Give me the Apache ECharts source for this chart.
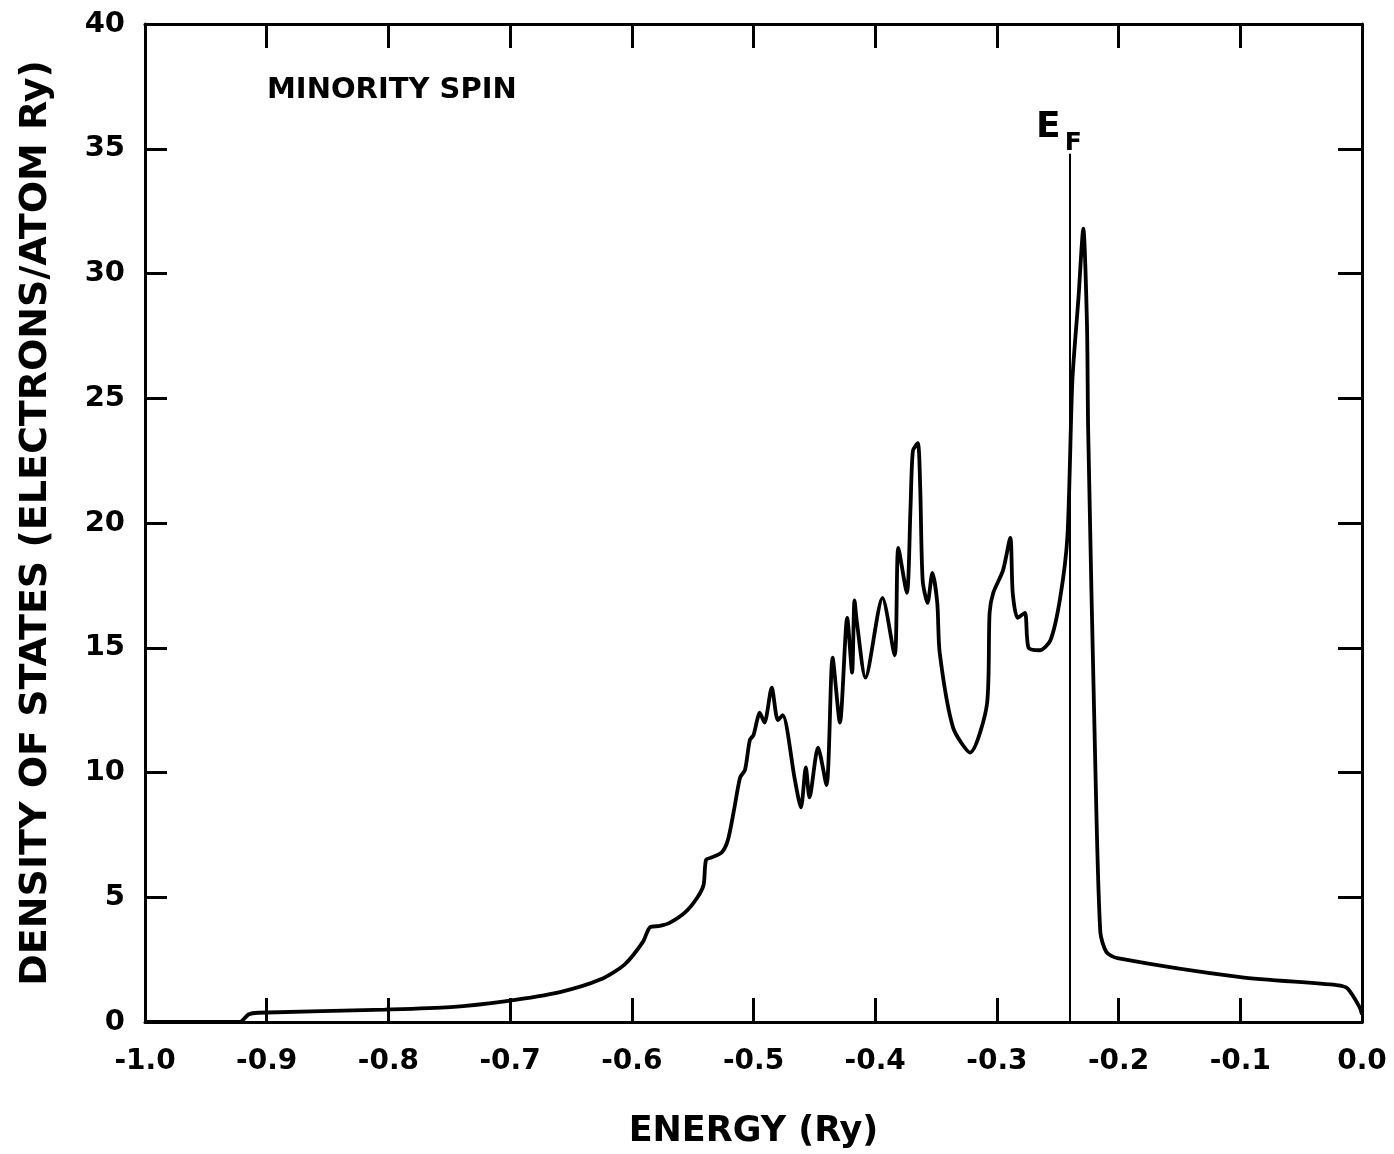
<!DOCTYPE html>
<html>
<head>
<meta charset="utf-8">
<script src="https://cdn.jsdelivr.net/npm/echarts@6/dist/echarts.min.js"></script>
<style>html,body{margin:0;padding:0;background:#fff}#c{width:1394px;height:1154px}</style>
</head>
<body>
<div id="c"></div>
<script>
// Energy (Ry)
const energy = [-1.0,-0.922,-0.915,-0.907,-0.803,-0.749,-0.703,-0.659,-0.626,-0.606,-0.591,-0.585,-0.577,-0.569,-0.556,-0.546,-0.541,-0.539,-0.534,-0.526,-0.521,-0.516,-0.511,-0.507,-0.503,-0.500,-0.497,-0.495,-0.491,-0.485,-0.480,-0.476,-0.466,-0.461,-0.457,-0.454,-0.447,-0.440,-0.435,-0.429,-0.423,-0.419,-0.417,-0.415,-0.408,-0.394,-0.384,-0.381,-0.374,-0.371,-0.369,-0.365,-0.363,-0.361,-0.357,-0.353,-0.349,-0.347,-0.336,-0.322,-0.308,-0.306,-0.303,-0.295,-0.289,-0.287,-0.283,-0.277,-0.274,-0.265,-0.256,-0.248,-0.242,-0.238,-0.233,-0.229,-0.226,-0.225,-0.219,-0.215,-0.210,-0.201,-0.100,-0.021,-0.012,-0.002,0.0];
// Density of states (electrons / atom Ry)
const dos = [0,0,0.3,0.37,0.5,0.6,0.84,1.2,1.7,2.3,3.2,3.8,3.85,3.97,4.4,5.0,5.5,6.5,6.6,6.8,7.3,8.5,9.8,10.1,11.3,11.5,12.1,12.4,12.0,13.4,12.1,12.3,9.7,8.6,10.2,9.0,11.0,9.5,14.6,12.0,16.2,14.0,16.9,16.0,13.8,17.0,14.7,19.0,17.2,20.6,22.9,23.2,21.4,17.7,16.8,18.0,16.8,14.8,11.8,10.8,12.8,16.4,17.2,18.1,19.4,17.2,16.2,16.4,15.0,14.9,15.3,17.0,19.5,25.7,29.0,31.8,28.0,23.7,10.0,3.6,2.8,2.56,1.8,1.48,1.35,0.6,0.3];
const xTicks = ['-1.0','-0.9','-0.8','-0.7','-0.6','-0.5','-0.4','-0.3','-0.2','-0.1','0.0'];
const yTicks = [0,5,10,15,20,25,30,35,40];
const fermiEnergy = -0.240;
const fermiTop = 34.8;

const FONT = 'DejaVu Sans';
const pts = energy.map((e,i)=>[e,dos[i]]);
const chart = echarts.init(document.getElementById('c'));
const lineStyle = {color:'#000',width:3};
const fmtX = v => { const i = Math.round((v+1)*10); return xTicks[i] !== undefined ? xTicks[i] : ''; };
chart.setOption({
  animation:false,
  backgroundColor:'#fff',
  grid:{left:145,right:32,top:24,bottom:132},
  title:{text:'MINORITY SPIN',left:262,top:71,textStyle:{fontFamily:FONT,fontSize:29,fontWeight:'bold',color:'#000'}},
  xAxis:[
    {type:'value',min:-1,max:0,interval:0.1,position:'bottom',
     name:'ENERGY (Ry)',nameLocation:'middle',nameGap:92,
     nameTextStyle:{fontFamily:FONT,fontSize:35,fontWeight:'bold',color:'#000'},
     axisLine:{show:true,onZero:false,lineStyle},
     axisTick:{show:true,inside:true,length:24,lineStyle},
     axisLabel:{formatter:fmtX,fontFamily:FONT,fontSize:28,fontWeight:'bold',color:'#000',margin:26},
     splitLine:{show:false}},
    {type:'value',min:-1,max:0,interval:0.1,position:'top',
     axisLine:{show:true,onZero:false,lineStyle},
     axisTick:{show:true,inside:true,length:24,lineStyle},
     axisLabel:{show:false},splitLine:{show:false}}
  ],
  yAxis:[
    {type:'value',min:0,max:40,interval:5,position:'left',
     name:'DENSITY OF STATES (ELECTRONS/ATOM Ry)',nameLocation:'middle',nameGap:90,
     nameTextStyle:{fontFamily:FONT,fontSize:38,fontWeight:'bold',color:'#000'},
     axisLine:{show:true,onZero:false,lineStyle},
     axisTick:{show:true,inside:true,length:22,lineStyle},
     axisLabel:{formatter:v=>yTicks.includes(v)?String(v):'',fontFamily:FONT,fontSize:29,fontWeight:'bold',color:'#000',margin:20},
     splitLine:{show:false}},
    {type:'value',min:0,max:40,interval:5,position:'right',
     axisLine:{show:true,onZero:false,lineStyle},
     axisTick:{show:true,inside:true,length:24,lineStyle},
     axisLabel:{show:false},splitLine:{show:false}}
  ],
  series:[{
    type:'line',data:pts,xAxisIndex:0,yAxisIndex:0,
    showSymbol:false,smooth:0.25,
    lineStyle:{color:'#000',width:3.8},
    markLine:{
      silent:true,symbol:'none',
      lineStyle:{color:'#000',width:2,type:'solid'},
      label:{show:true,position:'end',distance:8,
        formatter:'{e|E}{f|F}',
        rich:{e:{fontFamily:FONT,fontSize:36,fontWeight:'bold',color:'#000',verticalAlign:'bottom',padding:[0,0,0,0]},
              f:{fontFamily:FONT,fontSize:25,fontWeight:'bold',color:'#000',verticalAlign:'bottom',padding:[0,22,-10,4]}}},
      data:[[{coord:[fermiEnergy,0]},{coord:[fermiEnergy,fermiTop]}]]
    }
  }]
});
</script>
</body>
</html>
